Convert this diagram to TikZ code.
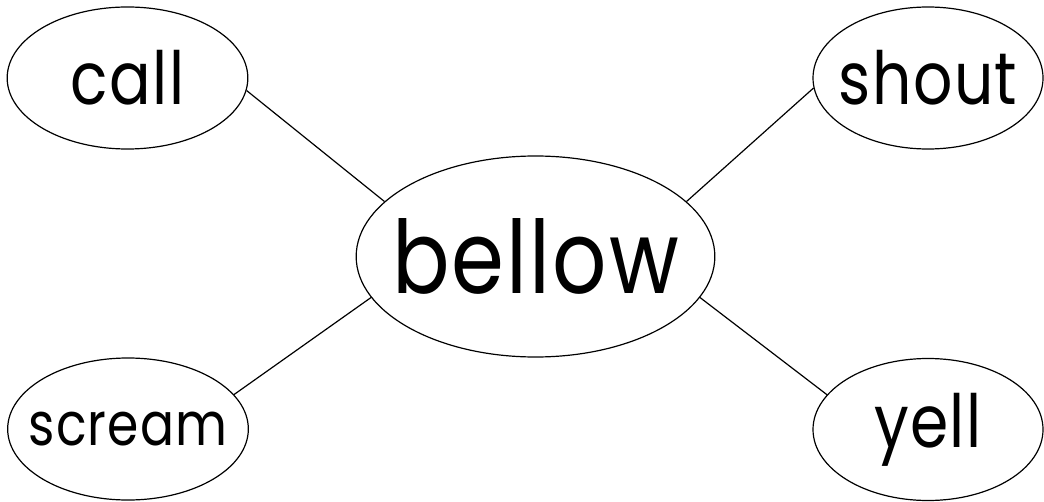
\documentclass[tikz,border=0pt]{standalone}
\usepackage{fontspec}
\setmainfont{Poppins}[FakeStretch=0.84, LetterSpace=2]
\usepackage{tikz}
\usetikzlibrary{shapes.geometric, positioning}

\begin{document}
\begin{tikzpicture}[
    x=0.75pt, y=-0.75pt,
    word/.style={ellipse, draw, line width=0.9pt, inner ysep=0pt, inner xsep=-60pt,
                 minimum width=180.5pt, minimum height=106.5pt,
                 font=\fontsize{55}{62}\selectfont},
    hub/.style={word, minimum width=269pt, minimum height=150.75pt,
                font=\fontsize{76}{86}\selectfont},
    link/.style={line width=0.9pt},
]
\useasboundingbox (0,0) rectangle (1044,502);

\node[hub] (bellow) at (535.5,256.5) {bellow};
\node[word] (call) at (127.5,78) {call};
\node[word, minimum width=172.5pt] (shout) at (928,78) {shout};
\node[word, font=\fontsize{45}{52}\selectfont] (scream) at (128,429) {scream};
\node[word, minimum width=172.5pt] (yell) at (928,429.5) {yell};

\draw[link] (call.-6) -- (bellow.160);
\draw[link] (shout.185) -- (bellow.20);
\draw[link] (scream.18) -- (bellow.194);
\draw[link] (yell.161) -- (bellow.-14);

\end{tikzpicture}
\end{document}
